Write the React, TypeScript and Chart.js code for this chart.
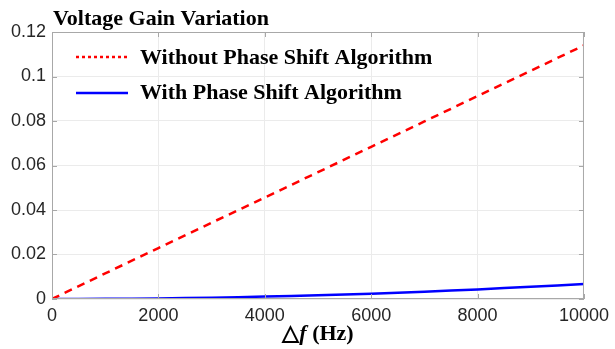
import React, { useEffect, useRef } from "react";
import { Chart, registerables } from "chart.js";

Chart.register(...registerables);

const freqs = [0, 1000, 2000, 3000, 4000, 5000, 6000, 7000, 8000, 9000, 10000];
const withoutPhaseShift = [0, 0.0115, 0.0229, 0.0343, 0.0456, 0.057, 0.0684, 0.0798, 0.0912, 0.1026, 0.114];
const withPhaseShift = [0, 0.00007, 0.00027, 0.0006, 0.0011, 0.0017, 0.0024, 0.0033, 0.0043, 0.0055, 0.0067];
const yTicks = [0, 0.02, 0.04, 0.06, 0.08, 0.1, 0.12];
const xTicks = [0, 2000, 4000, 6000, 8000, 10000];
const chartTitle = "Voltage Gain Variation";
const legendLabels = ["Without Phase Shift Algorithm", "With Phase Shift Algorithm"];

const SERIF = "'Liberation Serif', 'Times New Roman', serif";
const SANS = "'Liberation Sans', Arial, sans-serif";

const decorPlugin = {
  id: "decor",
  afterDatasetsDraw(chart: any) {
    const { ctx, chartArea, scales } = chart;
    const { left, right, top, bottom } = chartArea;
    ctx.save();
    // box
    ctx.strokeStyle = "#a8a8a8";
    ctx.lineWidth = 1;
    ctx.strokeRect(left + 0.5, top + 0.5, right - left - 1, bottom - top - 1);
    // inward ticks
    const tl = 5;
    ctx.beginPath();
    xTicks.forEach((v) => {
      const x = Math.round(scales.x.getPixelForValue(v)) + 0.5;
      ctx.moveTo(x, bottom);
      ctx.lineTo(x, bottom - tl);
      ctx.moveTo(x, top);
      ctx.lineTo(x, top + tl);
    });
    yTicks.forEach((v) => {
      const y = Math.round(scales.y.getPixelForValue(v)) + 0.5;
      ctx.moveTo(left, y);
      ctx.lineTo(left + tl, y);
      ctx.moveTo(right, y);
      ctx.lineTo(right - tl, y);
    });
    ctx.stroke();

    // title
    ctx.fillStyle = "#000";
    ctx.font = `bold 22px ${SERIF}`;
    ctx.textAlign = "left";
    ctx.textBaseline = "alphabetic";
    ctx.fillText(chartTitle, 53, 25);

    // legend
    ctx.lineWidth = 2.5;
    ctx.strokeStyle = "#ff0000";
    ctx.setLineDash([3, 3]);
    ctx.beginPath();
    ctx.moveTo(76, 57);
    ctx.lineTo(128, 57);
    ctx.stroke();
    ctx.setLineDash([]);
    ctx.strokeStyle = "#0000ff";
    ctx.beginPath();
    ctx.moveTo(76, 93);
    ctx.lineTo(128, 93);
    ctx.stroke();
    ctx.font = `bold 22px ${SERIF}`;
    ctx.fillText(legendLabels[0], 140, 64);
    ctx.fillText(legendLabels[1], 140, 99);

    // x-axis title: △f (Hz)
    const cx = (left + right) / 2;
    const tri = "\u25B3";
    const fPart = "f";
    const hz = " (Hz)";
    const fs = 22;
    ctx.font = `bold ${fs}px ${SERIF}`;
    const wTri = ctx.measureText(tri).width;
    ctx.font = `italic bold ${fs}px ${SERIF}`;
    const wF = ctx.measureText(fPart).width;
    ctx.font = `bold ${fs}px ${SERIF}`;
    const wHz = ctx.measureText(hz).width;
    let x0 = cx - (wTri + wF + wHz) / 2;
    const by = 340;
    ctx.font = `bold ${fs}px ${SERIF}`;
    ctx.fillText(tri, x0, by);
    x0 += wTri;
    ctx.font = `italic bold ${fs}px ${SERIF}`;
    ctx.fillText(fPart, x0, by);
    x0 += wF;
    ctx.font = `bold ${fs}px ${SERIF}`;
    ctx.fillText(hz, x0, by);
    ctx.restore();
  },
};

export default function App() {
  const ref = useRef<HTMLCanvasElement>(null);
  useEffect(() => {
    if (!ref.current) return;
    const chart = new Chart(ref.current, {
      type: "line",
      data: {
        datasets: [
          {
            label: legendLabels[0],
            data: freqs.map((f, i) => ({ x: f, y: withoutPhaseShift[i] })),
            borderColor: "#ff0000",
            borderWidth: 2.5,
            borderDash: [8, 6],
            pointRadius: 0,
            fill: false,
            tension: 0,
          },
          {
            label: legendLabels[1],
            data: freqs.map((f, i) => ({ x: f, y: withPhaseShift[i] })),
            borderColor: "#0000ff",
            borderWidth: 2.5,
            pointRadius: 0,
            fill: false,
            tension: 0.3,
          },
        ],
      },
      options: {
        animation: false,
        responsive: false,
        maintainAspectRatio: false,
        layout: { padding: { top: 32, right: 27, left: 0, bottom: 0 } },
        plugins: {
          legend: { display: false },
          title: { display: false },
          tooltip: { enabled: false },
        },
        scales: {
          x: {
            type: "linear",
            min: 0,
            max: 10000,
            afterFit: (s: any) => {
              s.height = 50;
            },
            afterBuildTicks: (s: any) => {
              s.ticks = xTicks.map((v) => ({ value: v }));
            },
            ticks: {
              padding: 6,
              maxRotation: 0,
              color: "#262626",
              font: { family: SANS, size: 18 },
              callback: (v: any) => String(v),
            },
            grid: { color: "#ebebeb", drawTicks: false },
            border: { display: false },
          },
          y: {
            type: "linear",
            min: 0,
            max: 0.12,
            afterFit: (s: any) => {
              s.width = 52;
            },
            afterBuildTicks: (s: any) => {
              s.ticks = yTicks.map((v) => ({ value: v }));
            },
            ticks: {
              padding: 6,
              color: "#262626",
              font: { family: SANS, size: 18 },
              callback: (v: any) => String(Number(Number(v).toFixed(2))),
            },
            grid: { color: "#ebebeb", drawTicks: false },
            border: { display: false },
          },
        },
      },
      plugins: [decorPlugin],
    });
    return () => chart.destroy();
  }, []);
  return (
    <div style={{ position: "fixed", left: 0, top: 0, width: 615, height: 349, background: "#fff" }}>
      <canvas ref={ref} width={615} height={349} style={{ width: 615, height: 349 }} />
    </div>
  );
}
